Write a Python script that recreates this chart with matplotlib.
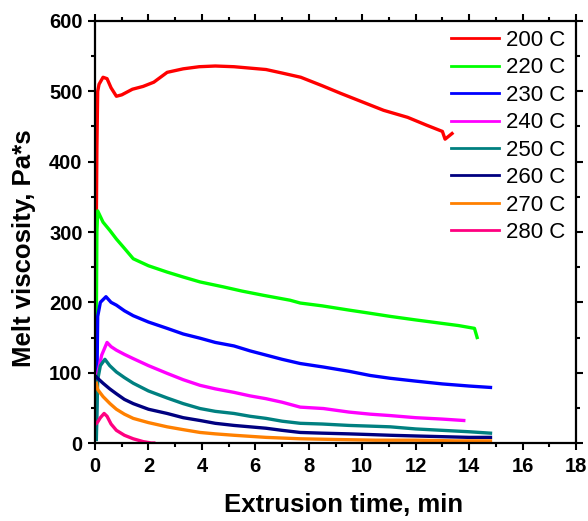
import matplotlib
matplotlib.use("Agg")
import matplotlib.pyplot as plt
from matplotlib.ticker import MultipleLocator

plt.rcParams['font.family'] = ['Liberation Sans', 'DejaVu Sans']

# Melt viscosity (Pa*s) vs extrusion time (min) at each barrel temperature
labels = ["200 C", "220 C", "230 C", "240 C", "250 C", "260 C", "270 C", "280 C"]
colors = ["#FF0000", "#00FF00", "#0000FF", "#FF00FF", "#008080", "#000080", "#FF8000", "#FF0080"]

t_200 = [0.05, 0.07, 0.1, 0.15, 0.3, 0.45, 0.6, 0.8, 1.0, 1.4, 1.8, 2.2, 2.7, 3.3, 3.9, 4.5, 5.2, 5.8, 6.4, 7.0, 7.7, 8.5, 9.2, 10.2, 10.8, 11.7, 12.4, 13.0, 13.1, 13.36]
v_200 = [320, 420, 500, 510, 520, 518, 505, 493, 495, 503, 507, 513, 527, 532, 535, 536, 535, 533, 531, 526, 520, 508, 497, 482, 473, 463, 452, 443, 432, 440]

t_220 = [0.05, 0.07, 0.1, 0.3, 0.56, 0.8, 1.05, 1.43, 2.0, 2.7, 3.3, 3.93, 4.8, 5.5, 6.3, 7.3, 7.68, 8.5, 9.5, 10.2, 11.05, 12.0, 13.0, 13.6, 14.2, 14.3]
v_220 = [175, 300, 330, 314, 302, 290, 279, 262, 252, 243, 236, 229, 222, 216, 210, 203, 199, 195, 189, 185, 180, 175, 170, 167, 163, 150]

t_230 = [0.05, 0.1, 0.2, 0.41, 0.6, 0.8, 1.1, 1.43, 2.0, 2.7, 3.3, 3.93, 4.5, 5.2, 5.8, 6.4, 7.0, 7.68, 8.55, 9.5, 10.3, 11.05, 12.0, 13.0, 14.0, 14.8]
v_230 = [20, 180, 200, 208, 200, 196, 188, 181, 172, 163, 155, 149, 143, 138, 131, 125, 119, 113, 108, 102, 96, 92, 88, 84, 81, 79]

t_240 = [0.05, 0.1, 0.25, 0.45, 0.6, 0.8, 1.1, 1.43, 2.0, 2.7, 3.3, 3.93, 4.5, 5.2, 5.8, 6.4, 7.0, 7.68, 8.55, 9.5, 10.3, 11.05, 12.0, 13.0, 13.8]
v_240 = [90, 99, 125, 143, 137, 132, 126, 120, 110, 99, 90, 82, 77, 72, 67, 63, 58, 51, 49, 44, 41, 39, 36, 34, 32]

t_250 = [0.05, 0.1, 0.2, 0.37, 0.55, 0.8, 1.1, 1.43, 2.0, 2.7, 3.3, 3.93, 4.5, 5.2, 5.8, 6.4, 7.0, 7.68, 8.5, 9.5, 10.3, 11.05, 12.0, 13.0, 14.0, 14.8]
v_250 = [5, 90, 110, 119, 110, 101, 93, 85, 74, 64, 56, 49, 45, 42, 38, 35, 31, 28, 27, 25, 24, 23, 20, 18, 16, 14]

t_260 = [0.05, 0.1, 0.3, 0.55, 0.8, 1.1, 1.43, 2.0, 2.7, 3.3, 3.93, 4.5, 5.2, 5.8, 6.4, 7.0, 7.68, 8.5, 9.5, 10.3, 11.05, 12.0, 13.0, 14.0, 14.8]
v_260 = [94, 92, 85, 77, 70, 62, 56, 48, 42, 36, 32, 28, 25, 23, 21, 18, 15, 14, 13, 12, 11, 10, 9, 8, 8]

t_270 = [0.05, 0.1, 0.3, 0.56, 0.8, 1.1, 1.43, 2.0, 2.7, 3.3, 3.93, 4.5, 5.2, 6.4, 7.68, 9.0, 10.5, 12.0, 13.5, 14.8]
v_270 = [85, 76, 66, 56, 48, 41, 35, 29, 23, 19, 15, 13, 11, 8, 6, 5, 4, 4, 3, 3]

t_280 = [0.05, 0.1, 0.2, 0.34, 0.45, 0.6, 0.8, 1.1, 1.43, 1.8, 2.1, 2.2]
v_280 = [28, 30, 36, 42, 38, 27, 18, 11, 6, 2, 0, 0]

series = [(t_200, v_200), (t_220, v_220), (t_230, v_230), (t_240, v_240),
          (t_250, v_250), (t_260, v_260), (t_270, v_270), (t_280, v_280)]

fig = plt.figure(figsize=(5.88, 5.21), dpi=100)
ax = fig.add_axes([0.1616, 0.1497, 0.8180, 0.8100])

for (t, v), c, lab in zip(series, colors, labels):
    ax.plot(t, v, color=c, lw=2.4, label=lab, solid_joinstyle='round')

ax.set_xlim(0, 18)
ax.set_ylim(0, 600)
ax.xaxis.set_major_locator(MultipleLocator(2))
ax.xaxis.set_minor_locator(MultipleLocator(1))
ax.yaxis.set_major_locator(MultipleLocator(100))
ax.yaxis.set_minor_locator(MultipleLocator(50))

for s in ax.spines.values():
    s.set_linewidth(1.6)

ax.tick_params(which='both', direction='out', width=1.5, top=True, right=True)
ax.tick_params(which='major', length=5)
ax.tick_params(which='minor', length=3)
ax.tick_params(axis='both', labelsize=14.5)
ax.tick_params(axis='x', pad=5)
ax.tick_params(axis='y', pad=4)
for lab in ax.get_xticklabels() + ax.get_yticklabels():
    lab.set_fontweight('bold')

ax.set_xlabel("Extrusion time, min", fontsize=18.5, fontweight='bold')
ax.set_ylabel("Melt viscosity, Pa*s", fontsize=18.5, fontweight='bold')
ax.xaxis.set_label_coords(0.517, -0.119)
ax.yaxis.set_label_coords(-0.123, 0.462)

leg = ax.legend(loc='upper right', bbox_to_anchor=(1.001, 1.005), frameon=False,
                fontsize=16, handlelength=2.2, handletextpad=0.3,
                labelspacing=0.29, borderaxespad=0.1)
for h in leg.get_lines():
    h.set_linewidth(2.0)

fig.savefig("out.png", dpi=100)
